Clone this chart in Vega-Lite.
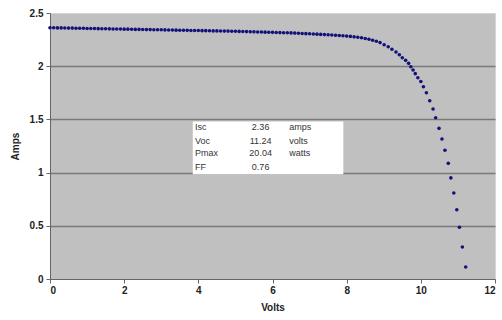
{
  "$schema": "https://vega.github.io/schema/vega-lite/v6.json",
  "width": 445,
  "height": 266,
  "autosize": {"type": "none"},
  "padding": {"left": 50, "top": 13, "right": 7, "bottom": 41},
  "background": "white",
  "config": {
    "view": {"fill": "#c0c0c0", "stroke": "#d4d4d4"},
    "font": "Liberation Sans"
  },
  "datasets": {
    "iv": [
      {"V": 0.0, "A": 2.362}, {"V": 0.1, "A": 2.361}, {"V": 0.2, "A": 2.36}, {"V": 0.3, "A": 2.36}, {"V": 0.4, "A": 2.359},
      {"V": 0.5, "A": 2.358}, {"V": 0.6, "A": 2.358}, {"V": 0.7, "A": 2.357}, {"V": 0.8, "A": 2.356}, {"V": 0.9, "A": 2.356},
      {"V": 1.0, "A": 2.355}, {"V": 1.1, "A": 2.354}, {"V": 1.2, "A": 2.354}, {"V": 1.3, "A": 2.353}, {"V": 1.4, "A": 2.352},
      {"V": 1.5, "A": 2.352}, {"V": 1.6, "A": 2.351}, {"V": 1.7, "A": 2.35}, {"V": 1.8, "A": 2.35}, {"V": 1.9, "A": 2.349},
      {"V": 2.0, "A": 2.348}, {"V": 2.1, "A": 2.348}, {"V": 2.2, "A": 2.347}, {"V": 2.3, "A": 2.346}, {"V": 2.4, "A": 2.346},
      {"V": 2.5, "A": 2.345}, {"V": 2.6, "A": 2.344}, {"V": 2.7, "A": 2.344}, {"V": 2.8, "A": 2.343}, {"V": 2.9, "A": 2.342},
      {"V": 3.0, "A": 2.342}, {"V": 3.1, "A": 2.341}, {"V": 3.2, "A": 2.34}, {"V": 3.3, "A": 2.34}, {"V": 3.4, "A": 2.339},
      {"V": 3.5, "A": 2.338}, {"V": 3.6, "A": 2.338}, {"V": 3.7, "A": 2.337}, {"V": 3.8, "A": 2.336}, {"V": 3.9, "A": 2.336},
      {"V": 4.0, "A": 2.335}, {"V": 4.1, "A": 2.334}, {"V": 4.2, "A": 2.334}, {"V": 4.3, "A": 2.333}, {"V": 4.4, "A": 2.332},
      {"V": 4.5, "A": 2.332}, {"V": 4.6, "A": 2.331}, {"V": 4.7, "A": 2.33}, {"V": 4.8, "A": 2.33}, {"V": 4.9, "A": 2.329},
      {"V": 5.0, "A": 2.328}, {"V": 5.1, "A": 2.327}, {"V": 5.2, "A": 2.326}, {"V": 5.3, "A": 2.325}, {"V": 5.4, "A": 2.324},
      {"V": 5.5, "A": 2.323}, {"V": 5.6, "A": 2.322}, {"V": 5.7, "A": 2.321}, {"V": 5.8, "A": 2.32}, {"V": 5.9, "A": 2.319},
      {"V": 6.0, "A": 2.318}, {"V": 6.1, "A": 2.317}, {"V": 6.2, "A": 2.316}, {"V": 6.3, "A": 2.315}, {"V": 6.4, "A": 2.314},
      {"V": 6.5, "A": 2.313}, {"V": 6.6, "A": 2.311}, {"V": 6.7, "A": 2.31}, {"V": 6.8, "A": 2.308}, {"V": 6.9, "A": 2.306},
      {"V": 7.0, "A": 2.305}, {"V": 7.1, "A": 2.303}, {"V": 7.2, "A": 2.301}, {"V": 7.3, "A": 2.299}, {"V": 7.4, "A": 2.297},
      {"V": 7.5, "A": 2.295}, {"V": 7.6, "A": 2.293}, {"V": 7.7, "A": 2.291}, {"V": 7.8, "A": 2.289}, {"V": 7.9, "A": 2.286},
      {"V": 8.0, "A": 2.283}, {"V": 8.1, "A": 2.28}, {"V": 8.2, "A": 2.276}, {"V": 8.3, "A": 2.272}, {"V": 8.4, "A": 2.267},
      {"V": 8.5, "A": 2.261}, {"V": 8.6, "A": 2.253}, {"V": 8.7, "A": 2.244}, {"V": 8.8, "A": 2.234}, {"V": 8.9, "A": 2.222},
      {"V": 9.01, "A": 2.202}, {"V": 9.12, "A": 2.183}, {"V": 9.22, "A": 2.159}, {"V": 9.33, "A": 2.133}, {"V": 9.42, "A": 2.108},
      {"V": 9.5, "A": 2.08}, {"V": 9.59, "A": 2.055}, {"V": 9.67, "A": 2.027}, {"V": 9.73, "A": 1.995}, {"V": 9.79, "A": 1.964},
      {"V": 9.85, "A": 1.93}, {"V": 9.92, "A": 1.892}, {"V": 10.0, "A": 1.856}, {"V": 10.07, "A": 1.807}, {"V": 10.15, "A": 1.75},
      {"V": 10.24, "A": 1.675}, {"V": 10.33, "A": 1.598}, {"V": 10.4, "A": 1.516}, {"V": 10.49, "A": 1.416}, {"V": 10.57, "A": 1.316},
      {"V": 10.65, "A": 1.21}, {"V": 10.74, "A": 1.087}, {"V": 10.81, "A": 0.95}, {"V": 10.89, "A": 0.808}, {"V": 10.97, "A": 0.651},
      {"V": 11.04, "A": 0.486}, {"V": 11.12, "A": 0.301}, {"V": 11.21, "A": 0.113}
    ],
    "box": [{"V": 3.85, "V2": 7.91, "A": 0.985, "A2": 1.48}],
    "names": [
      {"V": 3.91, "A": 1.426, "t": "Isc"},
      {"V": 3.91, "A": 1.3, "t": "Voc"},
      {"V": 3.91, "A": 1.181, "t": "Pmax"},
      {"V": 3.91, "A": 1.055, "t": "FF"},
      {"V": 6.45, "A": 1.426, "t": "amps"},
      {"V": 6.45, "A": 1.3, "t": "volts"},
      {"V": 6.45, "A": 1.181, "t": "watts"}
    ],
    "vals": [
      {"V": 5.68, "A": 1.426, "t": "2.36"},
      {"V": 5.68, "A": 1.3, "t": "11.24"},
      {"V": 5.68, "A": 1.181, "t": "20.04"},
      {"V": 5.68, "A": 1.055, "t": "0.76"}
    ]
  },
  "encoding": {
    "x": {
      "field": "V", "type": "quantitative", "title": "Volts",
      "scale": {"domain": [0, 12], "nice": false},
      "axis": {
        "values": [0, 2, 4, 6, 8, 10, 12], "grid": false,
        "labelFontWeight": "bold", "labelFontSize": 10, "labelColor": "#222",
        "titleFontWeight": "bold", "titleFontSize": 10, "titleColor": "#222", "titlePadding": 7,
        "domainColor": "#666", "tickColor": "#666", "tickSize": 4, "labelPadding": 2
      }
    },
    "y": {
      "field": "A", "type": "quantitative", "title": "Amps",
      "scale": {"domain": [0, 2.5], "nice": false},
      "axis": {
        "values": [0, 0.5, 1, 1.5, 2, 2.5], "format": "~g",
        "grid": true,
        "gridColor": {"condition": {"test": "datum.value >= 2.4 || datum.value <= 0.1", "value": "transparent"}, "value": "#7a7a7a"},
        "gridWidth": 1.3,
        "labelFontWeight": "bold", "labelFontSize": 10, "labelColor": "#222",
        "titleFontWeight": "bold", "titleFontSize": 10, "titleColor": "#222", "titlePadding": 9,
        "domainColor": "#666", "tickColor": "#666", "tickSize": 4, "labelPadding": 3
      }
    }
  },
  "layer": [
    {
      "data": {"name": "iv"},
      "mark": {"type": "point", "filled": true, "size": 13, "color": "#12127a", "opacity": 1}
    },
    {
      "data": {"name": "box"},
      "mark": {"type": "rect", "fill": "white"},
      "encoding": {
        "x2": {"field": "V2"},
        "y2": {"field": "A2"}
      }
    },
    {
      "data": {"name": "names"},
      "mark": {"type": "text", "align": "left", "baseline": "middle", "fontSize": 9, "color": "#333"},
      "encoding": {"text": {"field": "t"}}
    },
    {
      "data": {"name": "vals"},
      "mark": {"type": "text", "align": "center", "baseline": "middle", "fontSize": 9, "color": "#333"},
      "encoding": {"text": {"field": "t"}}
    }
  ]
}
